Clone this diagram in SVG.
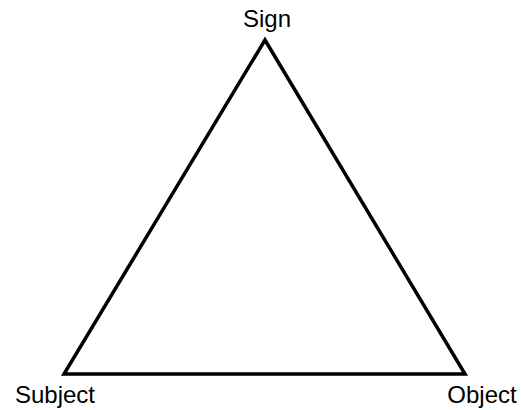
<svg xmlns="http://www.w3.org/2000/svg" width="521" height="410" viewBox="0 0 521 410">
<style>
.lbl{font-family:"Liberation Sans",Arial,sans-serif;font-size:24px;fill:#000;text-anchor:middle}
.edge{stroke:#000;stroke-width:3.5;fill:none;stroke-linejoin:miter}
</style>
<rect width="521" height="410" fill="#fff"/>
<g id="connectors">
<path class="edge" d="M265,40 L64,374 L465,374 Z"/>
</g>
<g id="sign"><text class="lbl" x="267" y="27">Sign</text></g>
<g id="subject"><text class="lbl" x="55" y="403">Subject</text></g>
<g id="object"><text class="lbl" x="482" y="403">Object</text></g>
</svg>
